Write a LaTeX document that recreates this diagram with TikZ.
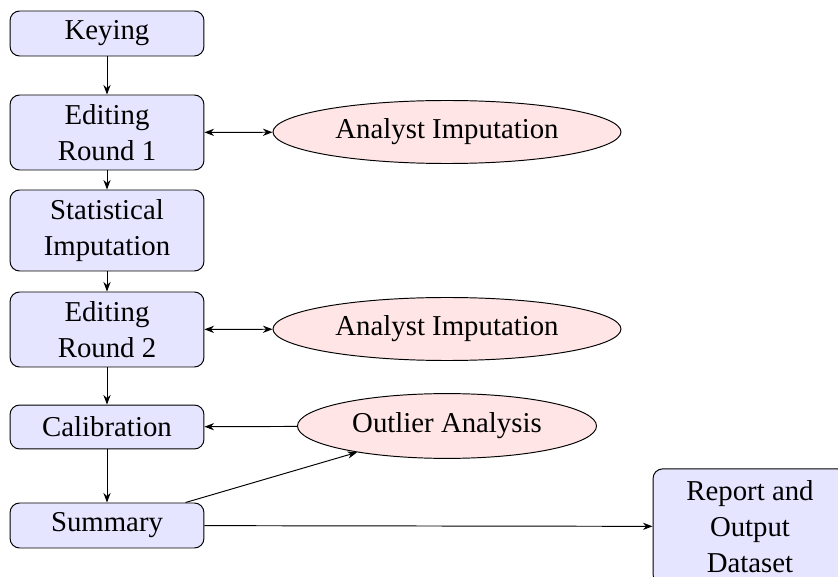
\documentclass[tikz,border=0pt]{standalone}
\usepackage{fontspec}
\setmainfont{Liberation Serif}
\usetikzlibrary{shapes.geometric,arrows.meta}
\begin{document}
\begin{tikzpicture}[x=0.416667pt,y=-0.416667pt,
  every node/.style={font=\fontsize{12}{15}\selectfont},
  box/.style={draw, rounded corners=4pt, fill=blue!10, minimum width=80.8pt, align=center, inner sep=2pt},
  oval/.style={draw, ellipse, fill=red!10, inner sep=0pt},
  arr/.style={-{Stealth[length=4pt,width=3pt]}},
  darr/.style={{Stealth[length=4pt,width=3pt]}-{Stealth[length=4pt,width=3pt]}}]
\useasboundingbox (0,0) rectangle (838,577);
\node[box, minimum height=18.75pt] (key) at (107,33.5) {Keying};
\node[box, minimum height=31.25pt] (ed1) at (107,132.5) {Editing\\Round 1};
\node[box, minimum height=33.75pt] (stat) at (107,230.5) {Statistical\\Imputation};
\node[box, minimum height=31.25pt] (ed2) at (107,329.5) {Editing\\Round 2};
\node[box, minimum height=18.3pt] (cal) at (107,427) {Calibration};
\node[box, minimum height=18.75pt] (sum) at (107,525.5) {Summary};
\node[box, minimum height=48pt] (rep) at (750,526.5) {Report and\\Output\\Dataset};
\node[oval, minimum width=145pt, minimum height=26.25pt] (ai1) at (447,132) {Analyst Imputation};
\node[oval, minimum width=145pt, minimum height=26.25pt] (ai2) at (447,329) {Analyst Imputation};
\node[oval, minimum width=124.6pt, minimum height=27pt] (out) at (447,426) {Outlier Analysis};
\draw[arr] (key) -- (ed1);
\draw[arr] (ed1) -- (stat);
\draw[arr] (stat) -- (ed2);
\draw[arr] (ed2) -- (cal);
\draw[arr] (cal) -- (sum);
\draw[darr] (ed1) -- (ai1);
\draw[darr] (ed2) -- (ai2);
\draw[arr] (out) -- (cal);
\draw[arr] (sum) -- (out);
\draw[arr] (sum) -- (rep);
\end{tikzpicture}
\end{document}
